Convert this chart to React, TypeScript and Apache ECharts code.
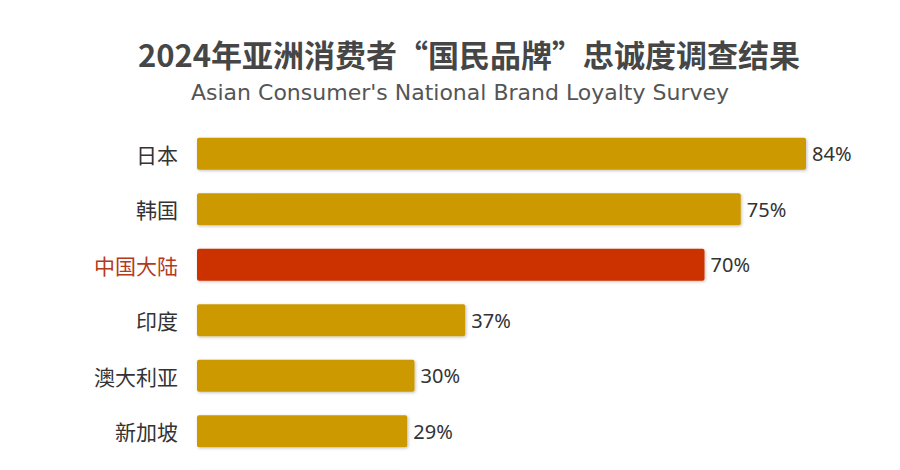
import { useEffect, useRef } from "react";
import * as echarts from "echarts";

const categories = ["日本", "韩国", "中国大陆", "印度", "澳大利亚", "新加坡", ""];
const loyalty = [84, 75, 70, 37, 30, 29, 28];
const highlight = "中国大陆";

const GOLD = "#CC9A06";
const RED = "#CC3300";
const CJK = "'Noto Sans CJK SC', 'Noto Sans', sans-serif";

export default function App() {
  const ref = useRef<HTMLDivElement>(null);

  useEffect(() => {
    document.body.style.margin = "0";
    if (!ref.current) return;
    const chart = echarts.init(ref.current, undefined, { renderer: "svg" });

    chart.setOption({
      animation: false,
      backgroundColor: "#ffffff",
      title: [
        {
          text: "2024年亚洲消费者“国民品牌”忠诚度调查结果",
          left: 464,
          top: 33,
          textAlign: "center",
          textStyle: { fontFamily: CJK, fontSize: 31, fontWeight: "bold", color: "#464646" },
        },
        {
          text: "Asian Consumer's National Brand Loyalty Survey",
          left: 455,
          top: 76,
          textAlign: "center",
          textStyle: { fontFamily: "'DejaVu Sans', sans-serif", fontSize: 22, fontWeight: "normal", color: "#555555" },
        },
      ],
      grid: {
        left: 197,
        top: 126,
        height: 388.5,
        width: 652.5,
        containLabel: false,
        outerBoundsMode: "none",
      },
      xAxis: {
        type: "value",
        min: 0,
        max: 90,
        show: false,
      },
      yAxis: {
        type: "category",
        data: categories,
        inverse: true,
        axisLine: { show: false },
        axisTick: { show: false },
        axisLabel: {
          margin: 19,
          fontFamily: CJK,
          fontSize: 21,
          color: (v: string) => (v === highlight ? "#B5391C" : "#333333"),
        },
      },
      series: [
        {
          type: "bar",
          barWidth: 32,
          data: loyalty.map((v, i) => ({
            value: v,
            itemStyle: {
              color: categories[i] === highlight ? RED : GOLD,
              borderRadius: 2,
              shadowColor: "rgba(0,0,0,0.25)",
              shadowBlur: 3,
              shadowOffsetX: 1,
              shadowOffsetY: 1,
            },
            // the last row is cut off by the picture's edge, so its label is not shown
            label: { show: categories[i] !== "" },
          })),
          label: {
            show: true,
            position: "right",
            distance: 6,
            formatter: "{c}%",
            fontFamily: "'Noto Sans', sans-serif",
            fontSize: 20,
            color: "#333333",
          },
        },
      ],
    });

    return () => chart.dispose();
  }, []);

  return <div ref={ref} style={{ width: 900, height: 470, overflow: "hidden" }} />;
}
